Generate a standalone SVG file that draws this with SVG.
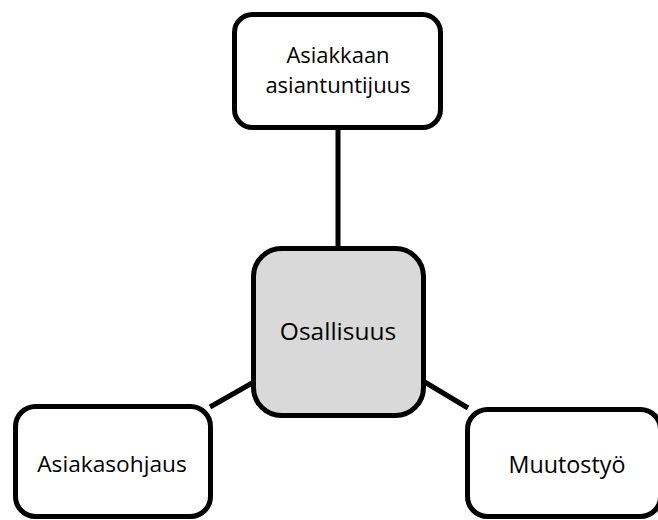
<svg xmlns="http://www.w3.org/2000/svg" width="658" height="520" viewBox="0 0 658 520">
<style>
.box{fill:#ffffff;stroke:#000000;stroke-width:5}
.hub{fill:#d9d9d9;stroke:#000000;stroke-width:5}
.lbl{font-family:"Open Sans","Noto Sans",sans-serif;font-size:22.7px;fill:#000000;text-anchor:middle}
.conn{stroke:#000000;stroke-width:5;fill:none}
</style>
<rect width="658" height="520" fill="#ffffff"/>
<g id="connectors">
<line class="conn" x1="338" y1="129" x2="338" y2="249"/>
<line class="conn" x1="210" y1="407" x2="254" y2="382"/>
<line class="conn" x1="423" y1="381" x2="468" y2="408"/>
</g>
<g id="node-asiantuntijuus">
<rect class="box" x="234.5" y="14.5" width="206" height="113" rx="18"/>
<text class="lbl" x="338" y="63" style="font-size:22px">Asiakkaan</text>
<text class="lbl" x="338" y="93" style="font-size:22px">asiantuntijuus</text>
</g>
<g id="node-osallisuus">
<rect class="hub" x="253.5" y="248.5" width="170" height="167" rx="28"/>
<text class="lbl" x="338" y="340" style="font-size:24.5px">Osallisuus</text>
</g>
<g id="node-asiakasohjaus">
<rect class="box" x="15.5" y="406.5" width="195" height="110" rx="20"/>
<text class="lbl" x="112" y="472">Asiakasohjaus</text>
</g>
<g id="node-muutostyo">
<rect class="box" x="467.5" y="409.5" width="193" height="107" rx="20"/>
<text class="lbl" x="567" y="473" style="font-size:23.3px">Muutostyö</text>
</g>
</svg>
